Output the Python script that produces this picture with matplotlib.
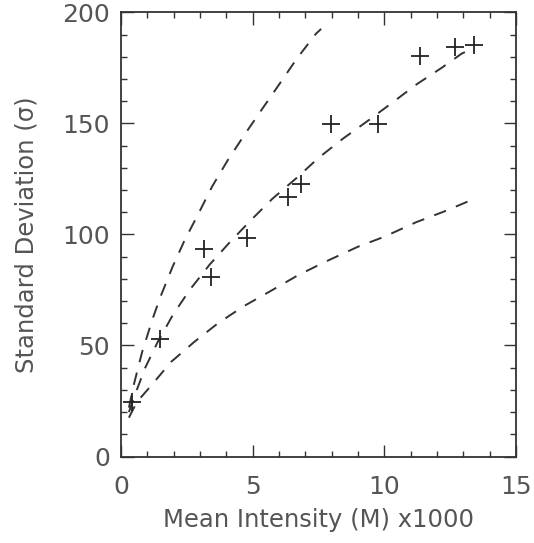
import matplotlib
matplotlib.use("Agg")
import matplotlib.pyplot as plt
from matplotlib.ticker import MultipleLocator

# measured points (mean intensity x1000, standard deviation)
mean_k = [0.41, 1.49, 3.14, 3.40, 4.77, 6.36, 6.83, 7.98, 9.76, 11.37, 12.70, 13.39]
sigma = [24.5, 53.0, 93.5, 80.8, 98.5, 116.8, 122.8, 149.9, 149.9, 180.6, 184.4, 185.4]

# dashed model curves
upper_x = [0.3, 0.5, 0.8, 1.2, 1.5, 1.96, 2.4, 2.95, 3.46, 4.03, 4.67, 5.3, 6.0, 6.67, 7.4, 7.6]
upper_y = [22, 33, 47, 62, 72, 85.5, 97, 109.6, 121.6, 133, 144.6, 155.5, 167.5, 179.1, 190.4, 192.6]

mid_x = [0.3, 0.6, 0.92, 1.39, 1.98, 2.62, 3.37, 4.1, 4.92, 5.75, 6.7, 7.5, 8.42, 9.35,
         10.27, 11.22, 12.18, 12.94, 13.4]
mid_y = [20, 30, 40, 51.5, 64, 75.2, 86.5, 96.1, 106.3, 116.1, 125.8, 134.5, 143.1, 151,
         159.1, 167.6, 175.1, 181.5, 184]

low_x = [0.3, 0.6, 1.15, 1.9, 2.79, 3.68, 4.66, 5.69, 6.7, 7.72, 9.0, 10.0, 11.2, 12.3, 13.3]
low_y = [17.5, 24.5, 32, 42.6, 51.7, 60, 67.7, 74.6, 81.5, 87.5, 94.5, 99, 105.5, 110.5, 115.5]

txt = "#555555"
ink = "#333333"

fig = plt.figure(figsize=(5.34, 5.43), dpi=100)
ax = fig.add_axes([0.2266, 0.1593, 0.7397, 0.8177])

for xs, ys in [(upper_x, upper_y), (mid_x, mid_y), (low_x, low_y)]:
    ax.plot(xs, ys, color=ink, lw=1.4, dashes=(6.5, 5.5))

ax.plot(mean_k, sigma, ls="none", marker="+", ms=13, mew=1.3, color="#222222")

ax.set_xlim(0, 15)
ax.set_ylim(0, 200)
ax.xaxis.set_major_locator(MultipleLocator(5))
ax.xaxis.set_minor_locator(MultipleLocator(1))
ax.yaxis.set_major_locator(MultipleLocator(50))
ax.yaxis.set_minor_locator(MultipleLocator(10))

ax.tick_params(which="both", direction="in", top=True, right=True, color=ink,
               labelsize=18, labelcolor=txt)
ax.tick_params(which="major", length=9, width=1)
ax.tick_params(which="minor", length=4.5, width=1)
ax.tick_params(axis="x", pad=13)
ax.tick_params(axis="y", pad=8)

for s in ax.spines.values():
    s.set_color(ink)
    s.set_linewidth(1.3)

ax.set_xlabel("Mean Intensity (M) x1000", fontsize=17.5, color=txt, labelpad=7)
ax.set_ylabel("Standard Deviation (σ)", fontsize=17.5, color=txt, labelpad=17)

fig.savefig("out.png", dpi=100)
